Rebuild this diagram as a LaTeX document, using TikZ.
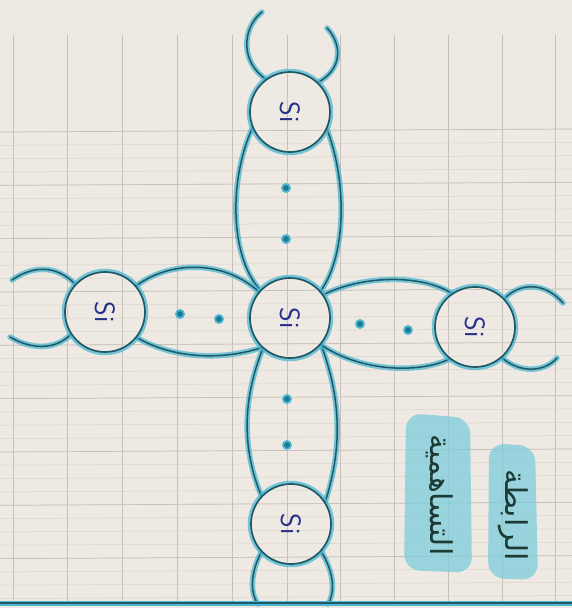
\documentclass[tikz,border=0pt]{standalone}
\usepackage{fontspec}
\newfontfamily\arabicfont[Script=Arabic]{DejaVu Sans}
\TeXXeTstate=1
\definecolor{paper}{HTML}{EEE9E2}
\definecolor{gridc}{HTML}{C6C0B8}
\definecolor{gridf}{HTML}{D8D2CA}
\definecolor{cyanglow}{HTML}{4DB8D2}
\definecolor{tealcore}{HTML}{1F5866}
\definecolor{tealdot}{HTML}{1D7890}
\definecolor{inkblue}{HTML}{26308C}
\definecolor{inkdark}{HTML}{1D3B35}
\definecolor{highl}{HTML}{79CDDD}
\newcommand\papergrid{%
  \foreach \x in {13,67,122,177,232,287,340,394,448,502,555}
    {\draw[gridmain] (\x,35) -- (\x,603);}
  \foreach \k in {0,...,35}
    {\draw[gridfine] (0,{132+13.33*\k}) -- (572,{132+13.33*\k-3});}
  \foreach \k in {0,...,8}
    {\draw[gridmain] (0,{132+53.33*\k}) -- (572,{132+53.33*\k-3});}
}
\begin{document}
\begin{tikzpicture}[x=1pt,y=-1pt,
  gridmain/.style={draw=gridc, line width=0.7pt},
  gridfine/.style={draw=gridf, line width=0.5pt},
  glow/.style={draw=cyanglow, line width=5.5pt, line cap=round, opacity=0.75},
  bondline/.style={draw=tealcore, line width=1.5pt, line cap=round, preaction={glow}},
  atom/.style={circle, minimum size=80pt, inner sep=0pt, outer sep=0pt, draw=tealcore, line width=1.7pt, fill=paper,
    preaction={draw=cyanglow, line width=6.5pt, opacity=0.75}},
  anchorpt/.style={circle, minimum size=80pt, inner sep=0pt, outer sep=0pt},
  sitext/.style={text=inkblue, font=\sffamily\fontsize{28}{28}\selectfont, rotate=-90, inner sep=0pt},
  edot/.style={fill=tealdot, draw=cyanglow, line width=1.8pt},
  hlbox/.style={fill=highl, opacity=0.72, rounded corners=16pt},
  artext/.style={text=inkdark, font=\arabicfont\fontsize{30}{36}\selectfont, rotate=-90, inner sep=0pt},
  rulebar/.style={draw=tealcore, line width=2.8pt, preaction={draw=cyanglow, line width=5pt}}
]
\useasboundingbox (0,0) rectangle (572,608);
\fill[paper] (0,0) rectangle (572,608);
\papergrid

% highlights
\fill[hlbox] (406,413) -- (470,418) -- (472,573) -- (404,570) -- cycle;
\fill[hlbox] (489,443) -- (535,446) -- (538,580) -- (488,578) -- cycle;

% atom positions (anchors for the bonds)
\node[anchorpt] (top) at (290,112) {};
\node[anchorpt] (mid) at (290,318) {};
\node[anchorpt] (lft) at (105,312) {};
\node[anchorpt] (rgt) at (475,327) {};
\node[anchorpt] (bot) at (291,524) {};

% free ends
\coordinate (tL) at (262,12);
\coordinate (tR) at (327,28);
\coordinate (lT) at (12,280);
\coordinate (lB) at (10,337);
\coordinate (rT) at (563,303);
\coordinate (rB) at (557,358);
\coordinate (bL) at (258,604);
\coordinate (bR) at (328,604);
\coordinate (baseL) at (0,603);
\coordinate (baseR) at (572,603);

% bonds: upper lobe
\draw[bondline] (top.202) .. controls (230,175) and (228,255) .. (mid.137);
\draw[bondline] (top.336) .. controls (347,180) and (347,255) .. (mid.41);
% lower lobe
\draw[bondline] (mid.228) .. controls (242,400) and (242,450) .. (bot.137);
\draw[bondline] (mid.320) .. controls (342,400) and (342,450) .. (bot.32);
% left lobe
\draw[bondline] (lft.40) .. controls (170,260) and (225,260) .. (mid.140);
\draw[bondline] (lft.321) .. controls (175,360) and (225,360) .. (mid.227);
% right lobe
\draw[bondline] (mid.35) .. controls (360,276) and (420,273) .. (rgt.124);
\draw[bondline] (mid.319) .. controls (360,372) and (420,374) .. (rgt.232);

% outer horns
\draw[bondline] (tL) .. controls (242,28) and (240,62) .. (top.126);
\draw[bondline] (tR) .. controls (343,45) and (342,70) .. (top.47);
\draw[bondline] (lT) .. controls (32,266) and (56,264) .. (lft.137);
\draw[bondline] (lB) .. controls (32,350) and (56,350) .. (lft.213);
\draw[bondline] (rgt.44) .. controls (520,282) and (545,282) .. (rT);
\draw[bondline] (rgt.311) .. controls (520,374) and (545,372) .. (rB);
\draw[bondline] (bot.223) .. controls (249,575) and (251,595) .. (bL);
\draw[bondline] (bot.318) .. controls (336,575) and (334,595) .. (bR);

% baseline rule
\draw[rulebar] (baseL) -- (baseR);

% atom circles
\node[atom] at (top) {};
\node[atom] at (mid) {};
\node[atom] at (lft) {};
\node[atom] at (rgt) {};
\node[atom] at (bot) {};

% grid inside circles
\begin{scope}
  \clip (290,112) circle (38pt) (290,318) circle (38pt) (105,312) circle (38pt)
        (475,327) circle (38pt) (291,524) circle (38pt);
  \papergrid
\end{scope}

% electrons
\foreach \p in {(286,188),(286,239),(180,314),(219,319),(360,324),(408,330),(287,399),(287,445)}
  {\fill[edot] \p circle (4pt);}

% labels
\node[sitext] at (top) {Si};
\node[sitext] at (mid) {Si};
\node[sitext] at (lft) {Si};
\node[sitext] at (rgt) {Si};
\node[sitext] at (bot) {Si};

\node[artext] (w1) at (513,515) {\beginR الرابطة\endR};
\node[artext] (w2) at (440,495) {\beginR التساهمية\endR};
\end{tikzpicture}
\end{document}
